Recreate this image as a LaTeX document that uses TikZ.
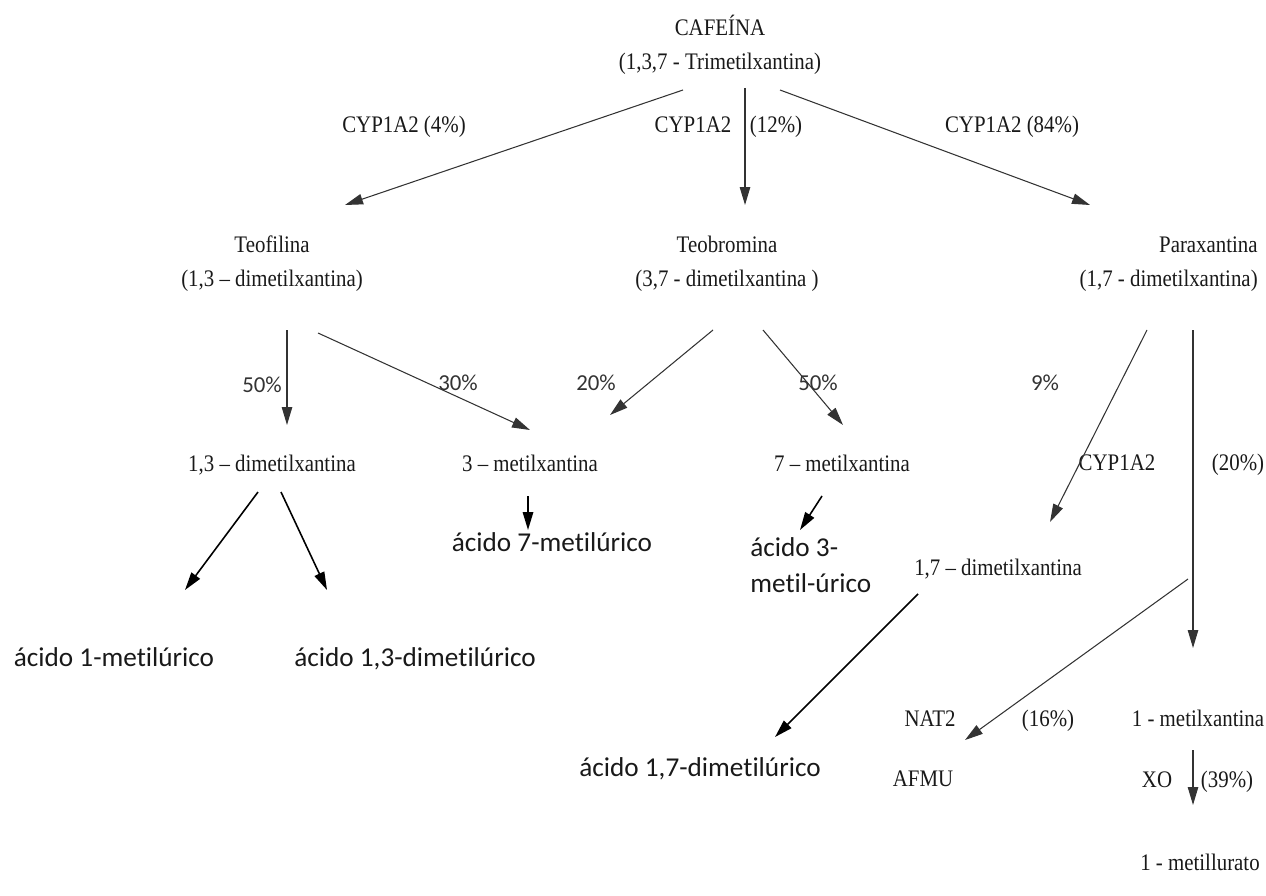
\documentclass[tikz,border=0pt]{standalone}
\usepackage{fontspec}
\setmainfont{Liberation Serif}[FakeStretch=0.88]
\newfontfamily\acfont{Carlito}[Ligatures=NoCommon]
\usetikzlibrary{calc,arrows.meta}
\tikzset{
  txtb/.style={inner sep=0pt, font=\fontsize{13.5}{19.5}\selectfont, text=black!90},
  txt/.style={txtb, text height=0.72em, text depth=0.22em},
  pct/.style={inner sep=0pt, font=\acfont\fontsize{13}{16}\selectfont, text=black!80},
  acido/.style={inner sep=0pt, font=\acfont\fontsize{15.5}{20.5}\selectfont, text=black!90},
  acido1/.style={acido, text height=0.75em, text depth=0.25em},
  arr/.style={draw=black!80, line width=0.6pt, -{Triangle[length=3.6mm,width=2.1mm]}},
  arrb/.style={draw=black, line width=0.9pt, -{Triangle[length=3.6mm,width=2.1mm]}}
}

\begin{document}
\begin{tikzpicture}[x=0.02cm, y=-0.02cm]
		%%%%% START %%%%%
		\useasboundingbox (0,0) rectangle (1266,895);
		
		% top
		\node[txtb, align=center] (caf) at (720,45) {CAFEÍNA\\(1,3,7 - Trimetilxantina)};
		\node[txt] (l4) at (404,128) {CYP1A2 (4\%)};
		\node[txt] (l12) at (693,128) {CYP1A2};
		\node[txt] (p12) at (776,128) {(12\%)};
		\node[txt] (l84) at (1012,128) {CYP1A2 (84\%)};
		
		% dimetilxantinas
		\node[txtb, align=center] (teo) at (272,264) {Teofilina\\(1,3 -- dimetilxantina)};
		\node[txtb, align=center] (teb) at (727,264) {Teobromina\\(3,7 - dimetilxantina )};
		\node[txtb, align=right, anchor=east] (par) at (1258,264) {Paraxantina\\(1,7 - dimetilxantina)};
		
		\draw[arr] ($(caf)+(-37,45)$) -- ($(teo)+(73,-59)$);
		\draw[arr] ($(caf)+(25,43)$) -- ($(teb)+(18,-59)$);
		\draw[arr] ($(caf)+(60,45)$) -- ($(par.east)+(-168,-59)$);
		
		% percentages
		\node[pct] (p50a) at (262,385) {50\%};
		\node[pct] (p30) at (458,383) {30\%};
		\node[pct] (p20) at (596,383) {20\%};
		\node[pct] (p50b) at (818,383) {50\%};
		\node[pct] (p9) at (1045,383) {9\%};
		\node[txt] (cyp) at (1117,466) {CYP1A2};
		\node[txt] (p20b) at (1238,466) {(20\%)};
		
		% monometil
		\node[txt] (dim13) at (272,467) {1,3 -- dimetilxantina};
		\node[txt] (met3) at (530,467) {3 -- metilxantina};
		\node[txt] (met7) at (842,467) {7 -- metilxantina};
		\node[txt] (dim17) at (998,571) {1,7 -- dimetilxantina};
		
		\draw[arr] ($(teo)+(15,66)$) -- ($(dim13)+(15,-42)$);
		\draw[arr] ($(teo)+(46,69)$) -- ($(met3)+(0,-37)$);
		\draw[arr] ($(teb)+(-14,66)$) -- ($(met3)+(80,-52)$);
		\draw[arr] ($(teb)+(36,66)$) -- ($(met7)+(1,-42)$);
		\draw[arr] ($(par.east)+(-111,66)$) -- ($(dim17)+(52,-49)$);
		\coordinate (vdown) at ($(par.east)+(-65,384)$);
		\draw[arr] ($(par.east)+(-65,66)$) -- (vdown);
		
		% acidos
		\node[acido1] (ac1) at (114,662) {ácido 1-metilúrico};
		\node[acido1] (ac13) at (415,662) {ácido 1,3-dimetilúrico};
		\node[acido1] (ac7) at (552,547) {ácido 7-metilúrico};
		\node[acido, align=left, anchor=west] (ac3) at (750,565) {ácido 3-\\metil-úrico};
		\node[acido1] (ac17) at (700,772) {ácido 1,7-dimetilúrico};
		
		\draw[arrb] ($(dim13)+(-14,25)$) -- ($(ac1)+(71,-72)$);
		\draw[arrb] ($(dim13)+(9,25)$) -- ($(ac13)+(-88,-72)$);
		\draw[arrb] ($(met3)+(-2,29)$) -- ($(ac7)+(-24,-17)$);
		\draw[arrb] ($(met7)+(-20,29)$) -- ($(ac3.west)+(50,-35)$);
		\draw[arrb] ($(dim17)+(-80,23)$) -- ($(ac17)+(75,-35)$);
		
		% paraxantina, 1-metilxantina
		\node[txt] (nat) at (930,722) {NAT2};
		\node[txt] (p16) at (1048,722) {(16\%)};
		\node[txt] (met1) at (1198,722) {1 - metilxantina};
		\node[txt] (afmu) at (923,782) {AFMU};
		\node[txt] (xo) at (1157,783) {XO};
		\node[txt] (p39) at (1227,783) {(39\%)};
		\node[txt] (mu) at (1200,866) {1 - metillurato};
		
		\draw[arr] ($(met1)+(-10,-143)$) -- ($(afmu)+(42,-42)$);
		\draw[arr] ($(met1)+(-5,28)$) -- ($(mu)+(-7,-61)$);
		
		%%%%% END %%%%%
	\end{tikzpicture}
\end{document}
